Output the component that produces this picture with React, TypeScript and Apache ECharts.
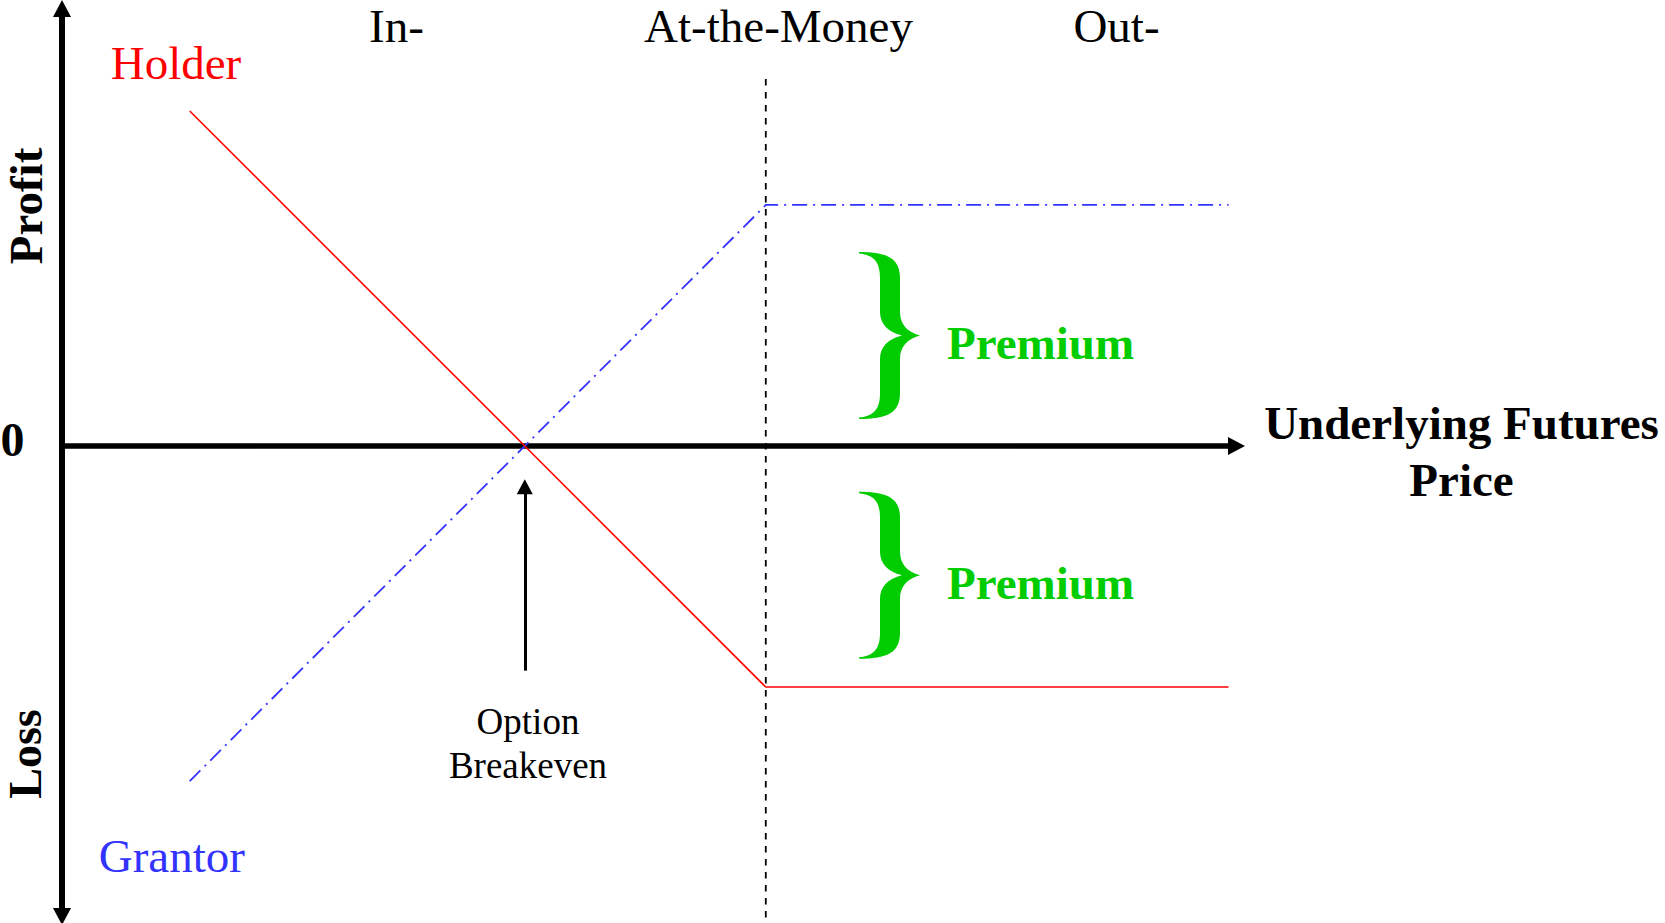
import React, { useEffect, useRef } from "react";
import * as echarts from "echarts";

// ---- data ----
const holderPrice = [5.3, 19.2, 29.2, 48.4];
const holderProfit = [13.9, 0, -10, -10];
const grantorPrice = [5.3, 19.2, 29.2, 48.4];
const grantorProfit = [-13.9, 0, 10, 10];
const strikePrice = 29.2;
const atmLineProfit = [15.23, -19.8];
const breakevenPrice = 19.2;
const breakevenArrowProfit = [-9.32, -1.69];
const priceRange = [0, 48.73];
const profitRange = [-19.52, 18.15];
const moneynessLabels = ["In-", "At-the-Money", "Out-"];
const seriesNames = ["Holder", "Grantor"];
const axisNames = ["Underlying Futures\nPrice", "Profit", "Loss", "0"];
const premiumLabel = "Premium";
const breakevenLabel = "Option\nBreakeven";

const SERIF = '"Liberation Serif", "Times New Roman", Times, serif';
const RED = "#FF0000";
const BLUE = "#3333FF";
const GREEN = "#00CC00";

const BRACE_D =
  "M0 0 C28 0 41 6 41 26 L41 60 C41 72 48 80 61 83.5 C48 87 41 95 41 107 L41 141 C41 161 28 167 0 167 L0 165.5 C16 164 21 156 21 141 L21 107 C21 95 29 87 43 83.5 C29 80 21 72 21 60 L21 26 C21 11 16 3 0 1.5 Z";

let braceRegistered = false;
function ensureBrace() {
  if (braceRegistered) return;
  echarts.graphic.registerShape("brace", echarts.graphic.extendPath(BRACE_D, {}) as any);
  braceRegistered = true;
}

export default function App() {
  const ref = useRef<HTMLDivElement>(null);

  useEffect(() => {
    if (!ref.current) return;
    ensureBrace();
    const chart = echarts.init(ref.current, undefined, { renderer: "svg" });

    const holderData = holderPrice.map((p, i) => [p, holderProfit[i]]);
    const grantorData = grantorPrice.map((p, i) => [p, grantorProfit[i]]);

    const txt = (
      text: string,
      x: number,
      y: number,
      fontSize: number,
      fill: string,
      bold: boolean,
      extra: any = {}
    ) => ({
      type: "text",
      x,
      y,
      silent: true,
      ...extra,
      style: {
        text,
        fill,
        fontSize,
        fontFamily: SERIF,
        fontWeight: bold ? "bold" : "normal",
        align: "center",
        verticalAlign: "middle",
        ...(extra.style || {}),
      },
    });

    chart.setOption({
      animation: false,
      backgroundColor: "#ffffff",
      grid: { left: 62, top: 8.5, width: 1174.5, height: 908, containLabel: false },
      xAxis: {
        type: "value",
        min: priceRange[0],
        max: priceRange[1],
        axisLine: {
          show: true,
          onZero: true,
          symbol: ["none", "triangle"],
          symbolSize: [18, 17],
          lineStyle: { color: "#000", width: 5.5 },
        },
        axisTick: { show: false },
        axisLabel: { show: false },
        splitLine: { show: false },
      },
      yAxis: {
        type: "value",
        min: profitRange[0],
        max: profitRange[1],
        axisLine: {
          show: true,
          onZero: false,
          symbol: ["triangle", "triangle"],
          symbolSize: [18, 17],
          lineStyle: { color: "#000", width: 6 },
        },
        axisTick: { show: false },
        axisLabel: { show: false },
        splitLine: { show: false },
      },
      series: [
        {
          name: seriesNames[0],
          type: "line",
          data: holderData,
          symbol: "none",
          silent: true,
          clip: false,
          z: 5,
          lineStyle: { color: RED, width: 1.6 },
        },
        {
          name: seriesNames[1],
          type: "line",
          data: grantorData,
          symbol: "none",
          silent: true,
          clip: false,
          z: 4,
          lineStyle: { color: BLUE, width: 1.8, type: [15, 6, 2, 6] },
        },
        {
          name: "At-the-Money",
          type: "line",
          data: [
            [strikePrice, atmLineProfit[0]],
            [strikePrice, atmLineProfit[1]],
          ],
          symbol: "none",
          silent: true,
          clip: false,
          z: 3,
          lineStyle: { color: "#000", width: 1.8, type: [6.5, 6.5] },
          markLine: {
            silent: true,
            symbol: ["none", "triangle"],
            symbolSize: [16, 15],
            label: { show: false },
            lineStyle: { color: "#000", width: 3, type: "solid" },
            data: [
              [
                { coord: [breakevenPrice, breakevenArrowProfit[0]] },
                { coord: [breakevenPrice, breakevenArrowProfit[1]] },
              ],
            ],
          },
        },
      ],
      graphic: [
        txt(moneynessLabels[0], 396.5, 26.2, 47, "#000", false, { style: { lineHeight: 40 } }),
        txt(moneynessLabels[1], 778.5, 26.2, 47, "#000", false, { style: { lineHeight: 40 } }),
        txt(moneynessLabels[2], 1116.5, 26.2, 47, "#000", false, { style: { lineHeight: 40 } }),
        txt(seriesNames[0], 176, 63.1, 47, RED, false),
        txt(seriesNames[1], 171.8, 855.8, 47, BLUE, false),
        txt(axisNames[1], 25.6, 206, 47, "#000", true, {
          rotation: Math.PI / 2,
          style: { lineHeight: 40 },
        }),
        txt(axisNames[2], 25.2, 754, 46, "#000", true, {
          rotation: Math.PI / 2,
          style: { lineHeight: 40 },
        }),
        txt(axisNames[3], 12.6, 439, 48, "#000", true),
        txt(axisNames[0], 1461.5, 451.5, 47, "#000", true, { style: { lineHeight: 57 } }),
        txt(premiumLabel, 1040.5, 343.1, 47, GREEN, true),
        txt(premiumLabel, 1040.5, 583.1, 47, GREEN, true),
        txt(breakevenLabel, 528, 743.5, 37, "#000", false, { style: { lineHeight: 44 } }),
        { type: "brace", x: 859, y: 252, silent: true, style: { fill: GREEN } },
        { type: "brace", x: 859, y: 491.7, silent: true, style: { fill: GREEN } },
      ],
    });

    return () => {
      chart.dispose();
    };
  }, []);

  return (
    <div
      ref={ref}
      style={{ position: "fixed", left: 0, top: 0, width: 1665, height: 923, background: "#fff" }}
    />
  );
}
